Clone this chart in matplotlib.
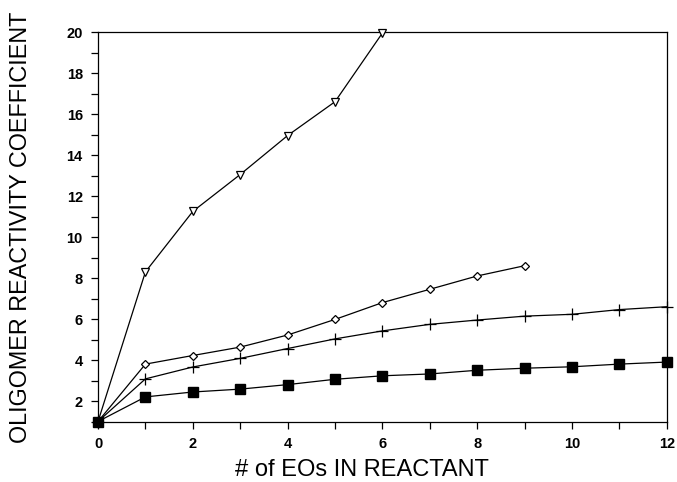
import matplotlib
matplotlib.use("Agg")
import matplotlib.pyplot as plt
from matplotlib.ticker import MultipleLocator

plt.rcParams['font.family'] = ['Liberation Sans', 'DejaVu Sans']

# Number of EO units in the reactant
eo_tri = [0, 1, 2, 3, 4, 5, 6]
coef_tri = [1.0, 8.3, 11.25, 13.05, 14.95, 16.6, 19.95]

eo_dia = [0, 1, 2, 3, 4, 5, 6, 7, 8, 9]
coef_dia = [1.0, 3.8, 4.22, 4.63, 5.22, 5.98, 6.8, 7.45, 8.1, 8.6]

eo_plus = [0, 1, 2, 3, 4, 5, 6, 7, 8, 9, 10, 11, 12]
coef_plus = [1.0, 3.08, 3.66, 4.08, 4.56, 5.03, 5.42, 5.74, 5.95, 6.14, 6.23, 6.46, 6.6]

eo_sq = [0, 1, 2, 3, 4, 5, 6, 7, 8, 9, 10, 11, 12]
coef_sq = [1.0, 2.2, 2.44, 2.58, 2.8, 3.06, 3.23, 3.32, 3.5, 3.6, 3.67, 3.8, 3.9]

x_ticks = [0, 2, 4, 6, 8, 10, 12]
y_ticks = [2, 4, 6, 8, 10, 12, 14, 16, 18, 20]

fig = plt.figure(figsize=(6.77, 4.82), dpi=100)
ax = fig.add_axes([0.1448, 0.1255, 0.840, 0.808])

lw = 0.9
ax.plot(eo_tri, coef_tri, color='black', lw=lw, marker='v', ms=6,
        mfc='white', mec='black', mew=0.9, clip_on=False, zorder=3)
ax.plot(eo_dia, coef_dia, color='black', lw=lw, marker='D', ms=4.5,
        mfc='white', mec='black', mew=0.9, clip_on=False, zorder=3)
ax.plot(eo_plus, coef_plus, color='black', lw=lw, marker='+', ms=8,
        mec='black', mew=0.9, clip_on=False, zorder=3)
ax.plot(eo_sq, coef_sq, color='black', lw=lw, marker='s', ms=6.5,
        mfc='black', mec='black', clip_on=False, zorder=4)

ax.set_xlim(0, 12)
ax.set_ylim(1, 20)
ax.set_xticks(x_ticks)
ax.set_yticks(y_ticks)
ax.xaxis.set_minor_locator(MultipleLocator(1))
ax.yaxis.set_minor_locator(MultipleLocator(1))

ax.tick_params(which='both', direction='out', length=5, width=0.9,
               top=False, right=False)
ax.tick_params(which='major', labelsize=10.5, pad=6)
for lab in ax.get_xticklabels() + ax.get_yticklabels():
    lab.set_fontweight('bold')

for s in ax.spines.values():
    s.set_linewidth(0.9)

ax.set_xlabel('# of EOs IN REACTANT', fontsize=17)
ax.set_ylabel('OLIGOMER REACTIVITY COEFFICIENT', fontsize=16.8)
ax.xaxis.set_label_coords(0.464, -0.124)
ax.xaxis.label.set_va('center')
ax.yaxis.set_label_coords(-0.137, 0.499)
ax.yaxis.label.set_va('center')

fig.savefig('out.png', dpi=100)
